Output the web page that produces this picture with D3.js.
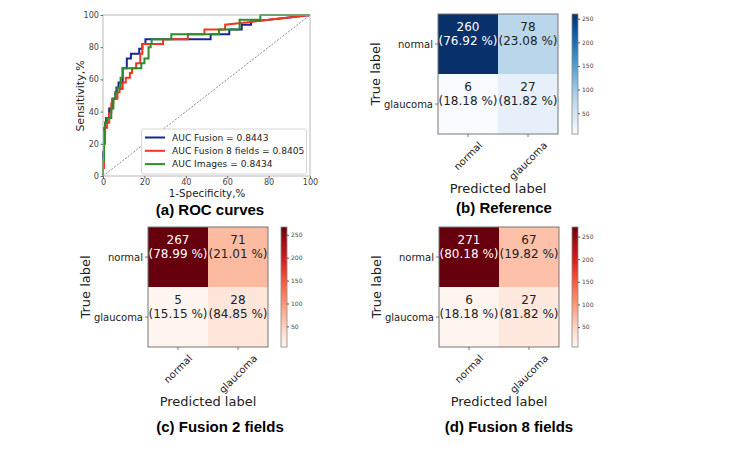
<!DOCTYPE html>
<html><head><meta charset="utf-8">
<script src="https://cdn.jsdelivr.net/npm/d3@7"></script>
<style>body{margin:0;background:#fff} svg{display:block}</style>
</head><body>
<svg id="c" width="743" height="459"></svg>
<script>
// ---------- DATA ----------
const rocTicks = [0, 20, 40, 60, 80, 100];
const rocFusionX = [0,0,0.5,0.5,1,1,1.5,1.5,3,3,4.5,4.5,6,6,6.5,6.5,7.5,7.5,9.5,9.5,11.5,11.5,13.5,13.5,17.5,17.5,19,19,20.5,20.5,52,52,61,61,67,67,71.5,71.5,80,90,100];
const rocFusionY = [0,15,15,30,30,33,33,36,36,42,42,48,48,52,52,55,55,58,58,67,67,73,73,76,76,79,79,82,82,85,85,88,88,91,91,94,94,96,97,98.5,100];
const rocFusion8X = [0,0,0.5,0.5,1,1,2,2,3,3,4,4,5,5,7,7,8,8,9.5,9.5,11,11,13,13,14,14,16,16,18,18,19,19,29,29,41,41,49,49,59,59,70,80,90,100];
const rocFusion8Y = [0,5,5,20,20,30,30,33,33,39,39,45,45,48,48,52,52,54,54,58,58,61,61,64,64,67,67,70,70,76,76,82,82,85,85,88,88,91,91,94,95.5,97,98.5,100];
const rocImagesX = [0,0,0.5,0.5,1,1,2,2,4,4,5,5,6,6,7,7,8.5,8.5,9.5,9.5,18.5,18.5,20,20,22,22,23,23,23.5,23.5,33,33,56,56,66,66,76,76,100];
const rocImagesY = [0,10,10,27,27,33,33,36,36,42,42,48,48,52,52,55,55,61,61,67,67,70,70,73,73,80,80,82,82,85,85,88,88,91,91,97,97,100,100];
const rocNames = ["AUC Fusion = 0.8443", "AUC Fusion 8 fields = 0.8405", "AUC Images = 0.8434"];
const rocColors = ["#1a2590", "#f7341f", "#2b8c2b"];

const cmLabels = ["normal", "glaucoma"];
const cmReference = [[260, 78], [6, 27]];
const cmReferencePct = [["76.92", "23.08"], ["18.18", "81.82"]];
const cmFusion2 = [[267, 71], [5, 28]];
const cmFusion2Pct = [["78.99", "21.01"], ["15.15", "84.85"]];
const cmFusion8 = [[271, 67], [6, 27]];
const cmFusion8Pct = [["80.18", "19.82"], ["18.18", "81.82"]];
const cbTicks = [50, 100, 150, 200, 250];
const panelTitles = ["(a) ROC curves", "(b) Reference", "(c) Fusion 2 fields", "(d) Fusion 8 fields"];

// ---------- DRAW ----------
const svg = d3.select("#c");
const FONT = "DejaVu Sans, sans-serif";
const TFONT = "Liberation Sans, Arial, sans-serif";

// ROC panel
(function () {
  const x = d3.scaleLinear().domain([0, 100]).range([103, 310]);
  const y = d3.scaleLinear().domain([0, 100]).range([176, 15]);
  const g = svg.append("g");
  g.append("line").attr("x1", x(0)).attr("y1", y(0)).attr("x2", x(100)).attr("y2", y(100))
    .attr("stroke", "#555").attr("stroke-width", 0.7).attr("stroke-dasharray", "2,1.5");
  const series = [[rocFusionX, rocFusionY], [rocFusion8X, rocFusion8Y], [rocImagesX, rocImagesY]];
  const line = d3.line().x(d => x(d[0])).y(d => y(d[1]));
  [0, 1, 2].forEach(i => {
    const pts = series[i][0].map((v, k) => [v, series[i][1][k]]);
    g.append("path").attr("d", line(pts)).attr("fill", "none")
      .attr("stroke", rocColors[i]).attr("stroke-width", 2);
  });
  g.append("rect").attr("x", x(0)).attr("y", y(100)).attr("width", x(100) - x(0)).attr("height", y(0) - y(100))
    .attr("fill", "none").attr("stroke", "#b8b8b8").attr("stroke-width", 1);
  const xa = d3.axisBottom(x).tickValues(rocTicks).tickSize(2.5).tickPadding(1);
  const ya = d3.axisLeft(y).tickValues(rocTicks).tickSize(2.5).tickPadding(1.5);
  const gx = g.append("g").attr("transform", `translate(0,${y(0)})`).call(xa);
  const gy = g.append("g").attr("transform", `translate(${x(0)},0)`).call(ya);
  [gx, gy].forEach(a => {
    a.select(".domain").remove();
    a.selectAll("line").attr("stroke", "#666");
    a.selectAll("text").attr("font-family", FONT).attr("font-size", 8.1).attr("fill", "#444");
  });
  g.append("text").attr("x", 207).attr("y", 197).attr("text-anchor", "middle")
    .attr("font-family", FONT).attr("font-size", 10.3).attr("fill", "#222").text("1-Specificity,%");
  g.append("text").attr("transform", "translate(84,96) rotate(-90)").attr("text-anchor", "middle")
    .attr("font-family", FONT).attr("font-size", 11).attr("fill", "#222").text("Sensitivity,%");
  // legend
  const lg = g.append("g");
  lg.append("rect").attr("x", 141.5).attr("y", 129).attr("width", 165).attr("height", 45).attr("rx", 2)
    .attr("fill", "#fff").attr("fill-opacity", 0.9).attr("stroke", "#ccc").attr("stroke-width", 0.8);
  rocNames.forEach((n, i) => {
    const yy = 137.5 + i * 13.3;
    lg.append("line").attr("x1", 145).attr("x2", 165).attr("y1", yy).attr("y2", yy)
      .attr("stroke", rocColors[i]).attr("stroke-width", 2);
    lg.append("text").attr("x", 172).attr("y", yy).attr("dy", "0.35em")
      .attr("font-family", FONT).attr("font-size", 9.1).attr("fill", "#222").text(n);
  });
})();

function drawCM(x0, y0, data, pct, interp, cbX) {
  const size = 120;
  const g = svg.append("g");
  const flat = data.flat();
  const vmin = d3.min(flat), vmax = d3.max(flat);
  const color = d3.scaleSequential(interp).domain([vmin, vmax]);
  const band = d3.scaleBand().domain(cmLabels).range([0, size]);
  data.forEach((row, r) => row.forEach((v, c) => {
    const cx = x0 + band(cmLabels[c]), cy = y0 + band(cmLabels[r]);
    g.append("rect").attr("x", cx).attr("y", cy).attr("width", band.bandwidth()).attr("height", band.bandwidth())
      .attr("fill", color(v));
    const light = v > (vmax + vmin) / 2;
    const tc = light ? "#fff" : "#222";
    const mx = cx + band.bandwidth() / 2, my = cy + band.bandwidth() / 2;
    g.append("text").attr("x", mx).attr("y", my - 17).attr("dy", "0.36em").attr("text-anchor", "middle")
      .attr("font-family", FONT).attr("font-size", 12).attr("fill", tc).text(v);
    g.append("text").attr("x", mx).attr("y", my - 3.5).attr("dy", "0.36em").attr("text-anchor", "middle")
      .attr("font-family", FONT).attr("font-size", 12).attr("fill", tc).text(`(${pct[r][c]} %)`);
  }));
  g.append("rect").attr("x", x0).attr("y", y0).attr("width", size).attr("height", size)
    .attr("fill", "none").attr("stroke", "#777").attr("stroke-width", 1);
  cmLabels.forEach((l, i) => {
    const yy = y0 + band(l) + band.bandwidth() / 2;
    g.append("line").attr("x1", x0 - 3).attr("x2", x0).attr("y1", yy).attr("y2", yy).attr("stroke", "#555").attr("stroke-width", 0.8);
    g.append("text").attr("x", x0 - 5).attr("y", yy).attr("dy", "0.35em").attr("text-anchor", "end")
      .attr("font-family", FONT).attr("font-size", 10).attr("fill", "#222").text(l);
    const xx = x0 + band(l) + band.bandwidth() / 2;
    g.append("line").attr("x1", xx).attr("x2", xx).attr("y1", y0 + size).attr("y2", y0 + size + 3).attr("stroke", "#555").attr("stroke-width", 0.8);
    const t = g.append("text").attr("text-anchor", "middle").attr("dy", "0.35em")
      .attr("font-family", FONT).attr("font-size", 10).attr("fill", "#222").text(l);
    const w = t.node().getComputedTextLength();
    const h = 10;
    const off = (w + h) / (2 * Math.SQRT2);
    t.attr("transform", `translate(${xx},${y0 + size + 6 + off}) rotate(-45)`);
  });
  g.append("text").attr("x", x0 + size / 2).attr("y", y0 + 174).attr("dy", "0.35em").attr("text-anchor", "middle")
    .attr("font-family", FONT).attr("font-size", 13).attr("fill", "#222").text("Predicted label");
  g.append("text").attr("transform", `translate(${x0 - 63},${y0 + size / 2}) rotate(-90)`).attr("dy", "0.35em")
    .attr("text-anchor", "middle").attr("font-family", FONT).attr("font-size", 13).attr("fill", "#222").text("True label");
  // colorbar
  const id = "grad" + cbX + "_" + y0;
  const grad = svg.append("defs").append("linearGradient").attr("id", id)
    .attr("x1", 0).attr("y1", 1).attr("x2", 0).attr("y2", 0);
  d3.range(0, 1.0001, 0.05).forEach(t => grad.append("stop").attr("offset", t).attr("stop-color", interp(t)));
  const cw = 6;
  g.append("rect").attr("x", cbX).attr("y", y0).attr("width", cw).attr("height", size)
    .attr("fill", `url(#${id})`).attr("stroke", "#888").attr("stroke-width", 0.8);
  const cy = d3.scaleLinear().domain([vmin, vmax]).range([y0 + size, y0]);
  const ca = d3.axisRight(cy).tickValues(cbTicks).tickSize(2).tickPadding(2);
  const gca = g.append("g").attr("transform", `translate(${cbX + cw},0)`).call(ca);
  gca.select(".domain").remove();
  gca.selectAll("line").attr("stroke", "#555");
  gca.selectAll("text").attr("font-family", FONT).attr("font-size", 6).attr("fill", "#444");
}

drawCM(438, 14, cmReference, cmReferencePct, d3.interpolateBlues, 572);
drawCM(148, 227, cmFusion2, cmFusion2Pct, d3.interpolateReds, 281);
drawCM(439, 227, cmFusion8, cmFusion8Pct, d3.interpolateReds, 572);

const titlePos = [[210, 214.5], [504, 213], [220, 432], [509, 432]];
panelTitles.forEach((t, i) => {
  svg.append("text").attr("x", titlePos[i][0]).attr("y", titlePos[i][1]).attr("text-anchor", "middle")
    .attr("font-family", TFONT).attr("font-weight", "bold").attr("font-size", 15).attr("fill", "#000").text(t);
});
</script>
</body></html>
